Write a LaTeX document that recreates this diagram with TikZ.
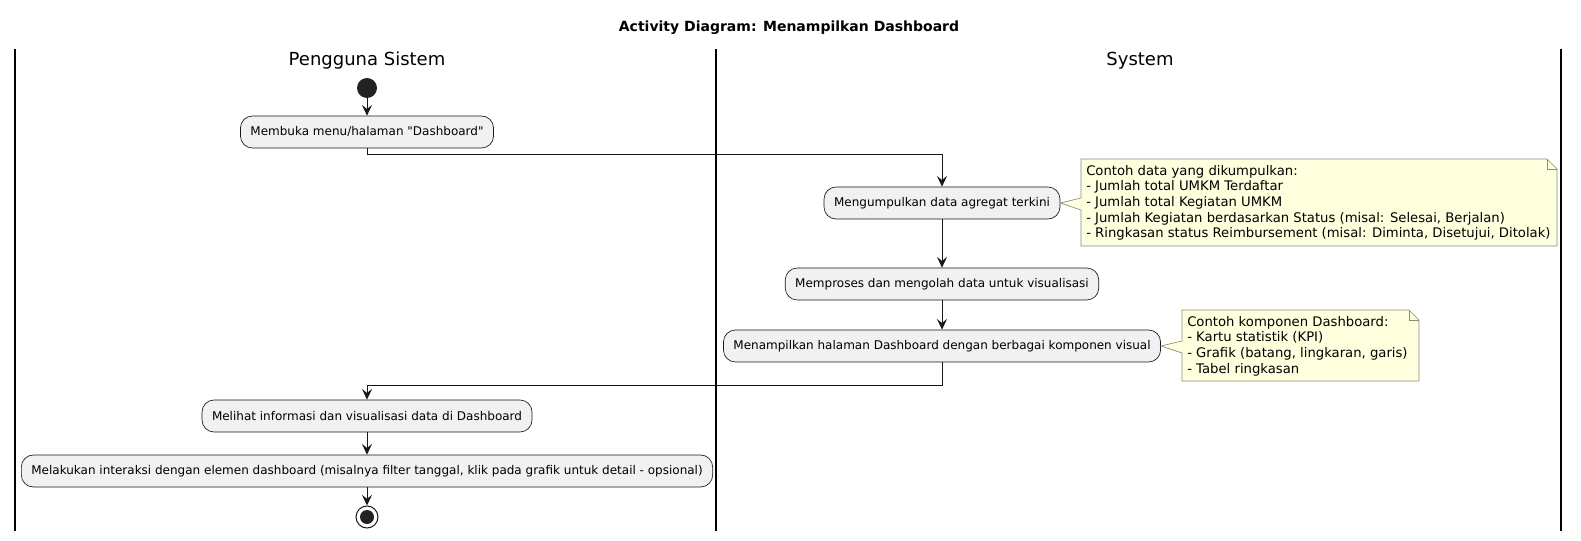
\documentclass[tikz,border=0pt]{standalone}
\usepackage{fontspec}
\setmainfont{DejaVu Sans}[Ligatures=TeXOff]
\usetikzlibrary{arrows.meta}
\definecolor{actfill}{HTML}{F1F1F1}
\definecolor{actline}{HTML}{181818}
\definecolor{notefill}{HTML}{FEFFDD}
\definecolor{noteline}{HTML}{8B8B78}
\definecolor{startfill}{HTML}{222222}
\begin{document}
\begin{tikzpicture}[x=0.75pt,y=-0.75pt,
  act/.style={draw=actline, fill=actfill, rounded corners=9pt, minimum height=24pt,
    inner xsep=7.5pt, inner ysep=0pt, font=\fontsize{9}{11}\selectfont, line width=0.5pt},
  arr/.style={-{Stealth[length=8pt,width=7.5pt,inset=3pt]}, line width=0.75pt, draw=actline},
  lane/.style={line width=1.1pt, draw=black},
  lanehead/.style={font=\fontsize{13.5}{16}\selectfont},
  notetext/.style={anchor=north west, align=left, inner sep=0pt, font=\fontsize{9.9}{11.7}\selectfont},
  noteshape/.style={draw=noteline, fill=notefill, line width=0.5pt, line join=miter}]
\useasboundingbox (0,0) rectangle (1581,541);

% title
\node[font=\bfseries\fontsize{10.5}{12}\selectfont] (title) at (789,28) {Activity Diagram: Menampilkan Dashboard};

% lanes
\coordinate (l1t) at (15,49);   \coordinate (l1b) at (15,531);
\coordinate (l2t) at (716,49);  \coordinate (l2b) at (716,531);
\coordinate (l3t) at (1561,49); \coordinate (l3b) at (1561,531);
\draw[lane] (l1t) -- (l1b);
\draw[lane] (l2t) -- (l2b);
\draw[lane] (l3t) -- (l3b);
\node[lanehead] (h1) at (367,61) {Pengguna Sistem};
\node[lanehead] (h2) at (1140,61) {System};

% start
\node[circle, fill=startfill, minimum size=15pt, inner sep=0pt] (start) at (367,88) {};

% activities
\node[act] (b1) at (367,132) {Membuka menu/halaman "Dashboard"};
\node[act] (b2) at (942,203) {Mengumpulkan data agregat terkini};
\node[act] (b3) at (942,284) {Memproses dan mengolah data untuk visualisasi};
\node[act] (b4) at (942,346) {Menampilkan halaman Dashboard dengan berbagai komponen visual};
\node[act] (b5) at (367,416) {Melihat informasi dan visualisasi data di Dashboard};
\node[act] (b6) at (367,471) {Melakukan interaksi dengan elemen dashboard (misalnya filter tanggal, klik pada grafik untuk detail - opsional)};

% end
\node[circle, draw=actline, fill=white, line width=0.75pt, minimum size=16.5pt, inner sep=0pt] (stop) at (367,517) {};
\node[circle, fill=startfill, minimum size=10.5pt, inner sep=0pt] (stopin) at (stop.center) {};

% connectors
\draw[arr] (start) -- (b1);
\draw[arr] (b1.south) -- ++(0,6) -| (b2.north);
\draw[arr] (b2) -- (b3);
\draw[arr] (b3) -- (b4);
\draw[arr] (b4.south) -- ++(0,23) -| (b5.north);
\draw[arr] (b5) -- (b6);
\draw[arr] (b6) -- (stop);

% note 1
\draw[noteshape] (1081,159) -- (1547,159) -- (1557,169) -- (1557,246) -- (1081,246)
  -- (1081,210) -- (b2.east) -- (1081,198) -- cycle;
\draw[noteshape, fill=none] (1547,159) -- (1547,169) -- (1557,169);
\node[notetext] (n1) at (1086,165) {Contoh data yang dikumpulkan:\\
- Jumlah total UMKM Terdaftar\\
- Jumlah total Kegiatan UMKM\\
- Jumlah Kegiatan berdasarkan Status (misal: Selesai, Berjalan)\\
- Ringkasan status Reimbursement (misal: Diminta, Disetujui, Ditolak)};

% note 2
\draw[noteshape] (1182,310) -- (1409,310) -- (1419,320) -- (1419,381) -- (1182,381)
  -- (1182,353) -- (b4.east) -- (1182,341) -- cycle;
\draw[noteshape, fill=none] (1409,310) -- (1409,320) -- (1419,320);
\node[notetext] (n2) at (1187,316) {Contoh komponen Dashboard:\\
- Kartu statistik (KPI)\\
- Grafik (batang, lingkaran, garis)\\
- Tabel ringkasan};
\end{tikzpicture}
\end{document}
